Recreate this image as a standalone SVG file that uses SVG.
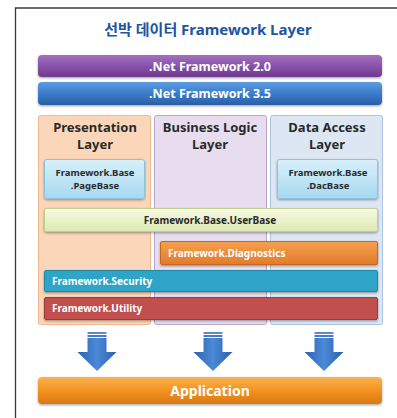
<svg xmlns="http://www.w3.org/2000/svg" width="397" height="418" viewBox="0 0 397 418">
<style>
.t{font-family:"Noto Sans","Open Sans","Noto Sans CJK KR",sans-serif;font-weight:bold}
.w{fill:#ffffff}
.d{fill:#2a2a2a}
</style>
<defs>
<linearGradient id="gPur" x1="0" y1="0" x2="0" y2="1"><stop offset="0" stop-color="#a071c0"/><stop offset="0.5" stop-color="#8a52ab"/><stop offset="1" stop-color="#6d3a8c"/></linearGradient>
<linearGradient id="gBlu" x1="0" y1="0" x2="0" y2="1"><stop offset="0" stop-color="#5d9ce0"/><stop offset="0.5" stop-color="#3b7ccb"/><stop offset="1" stop-color="#2a5ea6"/></linearGradient>
<linearGradient id="gLb" x1="0" y1="0" x2="0" y2="1"><stop offset="0" stop-color="#d8f0fb"/><stop offset="1" stop-color="#a7d9f0"/></linearGradient>
<linearGradient id="gYg" x1="0" y1="0" x2="0" y2="1"><stop offset="0" stop-color="#f6fae4"/><stop offset="1" stop-color="#dce9b0"/></linearGradient>
<linearGradient id="gOr" x1="0" y1="0" x2="0" y2="1"><stop offset="0" stop-color="#f5a04e"/><stop offset="1" stop-color="#e07c2c"/></linearGradient>
<linearGradient id="gApp" x1="0" y1="0" x2="0" y2="1"><stop offset="0" stop-color="#fbb24e"/><stop offset="0.5" stop-color="#f29322"/><stop offset="1" stop-color="#dc7810"/></linearGradient>
<linearGradient id="gArr" x1="0" y1="0" x2="1" y2="0"><stop offset="0" stop-color="#2c64b4"/><stop offset="0.5" stop-color="#4a8ad6"/><stop offset="1" stop-color="#2a5fae"/></linearGradient>
<filter id="sh" x="-5%" y="-20%" width="110%" height="150%"><feDropShadow dx="0" dy="1.2" stdDeviation="0.8" flood-color="#000" flood-opacity="0.35"/></filter>
<g id="arrow">
<rect x="-9.5" y="332" width="19" height="2" fill="#5a8ad0"/>
<rect x="-9.5" y="335" width="19" height="2" fill="#4a7cc4"/>
<path d="M-9.5 338 H9.5 V352 H19.5 L0 371 L-19.5 352 H-9.5 Z" fill="url(#gArr)"/>
</g>
</defs>
<rect width="397" height="418" fill="#ffffff"/>
<path d="M15.5 418 V8 H397" fill="none" stroke="#3a3a3a" stroke-width="1.3"/>

<g id="title"><text class="t" x="208" y="35" text-anchor="middle" font-size="15" fill="#2153a3" font-family="Noto Sans CJK KR">선박 데이터 Framework Layer</text></g>

<g id="net20"><rect x="38" y="55" width="344" height="22" rx="4" fill="url(#gPur)" filter="url(#sh)"/><text class="t w" x="210" y="70.5" text-anchor="middle" font-size="12.5">.Net Framework 2.0</text></g>
<g id="net35"><rect x="38" y="82" width="344" height="23" rx="4" fill="url(#gBlu)" filter="url(#sh)"/><text class="t w" x="210" y="98" text-anchor="middle" font-size="12.5">.Net Framework 3.5</text></g>

<g id="presentation"><rect x="38.5" y="115.5" width="112" height="209" rx="2" fill="#fbd6b8" stroke="#f2b890"/><text class="t d" x="95" y="132" text-anchor="middle" font-size="13">Presentation</text><text class="t d" x="95" y="149" text-anchor="middle" font-size="13">Layer</text></g>
<g id="business"><rect x="154.5" y="115.5" width="112" height="209" rx="2" fill="#e7ddef" stroke="#b9a6cf"/><text class="t d" x="210" y="132" text-anchor="middle" font-size="13">Business Logic</text><text class="t d" x="210" y="149" text-anchor="middle" font-size="13">Layer</text></g>
<g id="dataaccess"><rect x="270.5" y="115.5" width="112" height="209" rx="2" fill="#dde7f3" stroke="#a9c4e4"/><text class="t d" x="327" y="132" text-anchor="middle" font-size="13">Data Access</text><text class="t d" x="327" y="149" text-anchor="middle" font-size="13">Layer</text></g>

<g id="pagebase"><rect x="44.5" y="159.5" width="100" height="39" rx="2" fill="url(#gLb)" stroke="#8cc3de" filter="url(#sh)"/><text class="t d" x="95" y="176" text-anchor="middle" font-size="9.5">Framework.Base</text><text class="t d" x="95" y="189" text-anchor="middle" font-size="9.5">.PageBase</text></g>
<g id="dacbase"><rect x="277.5" y="159.5" width="100" height="39" rx="2" fill="url(#gLb)" stroke="#8cc3de" filter="url(#sh)"/><text class="t d" x="328" y="176" text-anchor="middle" font-size="9.5">Framework.Base</text><text class="t d" x="328" y="189" text-anchor="middle" font-size="9.5">.DacBase</text></g>

<g id="userbase"><rect x="44.5" y="208.5" width="333" height="23" rx="2" fill="url(#gYg)" stroke="#bfd08c" filter="url(#sh)"/><text class="t d" x="210" y="224" text-anchor="middle" font-size="10">Framework.Base.UserBase</text></g>
<g id="diagnostics"><rect x="160.5" y="241.5" width="217" height="23" rx="1.5" fill="url(#gOr)" stroke="#c8661a" filter="url(#sh)"/><text class="t w" x="168" y="257" font-size="10">Framework.Diagnostics</text></g>
<g id="security"><rect x="44.5" y="270.5" width="333" height="21" rx="1.5" fill="#2ea5c6" stroke="#1f88a8" filter="url(#sh)"/><text class="t w" x="52" y="285" font-size="10">Framework.Security</text></g>
<g id="utility"><rect x="44.5" y="297.5" width="333" height="22" rx="1.5" fill="#c0504d" stroke="#9a3a38" filter="url(#sh)"/><text class="t w" x="52" y="312" font-size="10">Framework.Utility</text></g>

<g id="connectors">
<use href="#arrow" x="97"/>
<use href="#arrow" x="213"/>
<use href="#arrow" x="324"/>
</g>

<g id="application"><rect x="38" y="377" width="344" height="27" rx="4" fill="url(#gApp)" filter="url(#sh)"/><text class="t w" x="210" y="395.5" text-anchor="middle" font-size="14">Application</text></g>
</svg>
